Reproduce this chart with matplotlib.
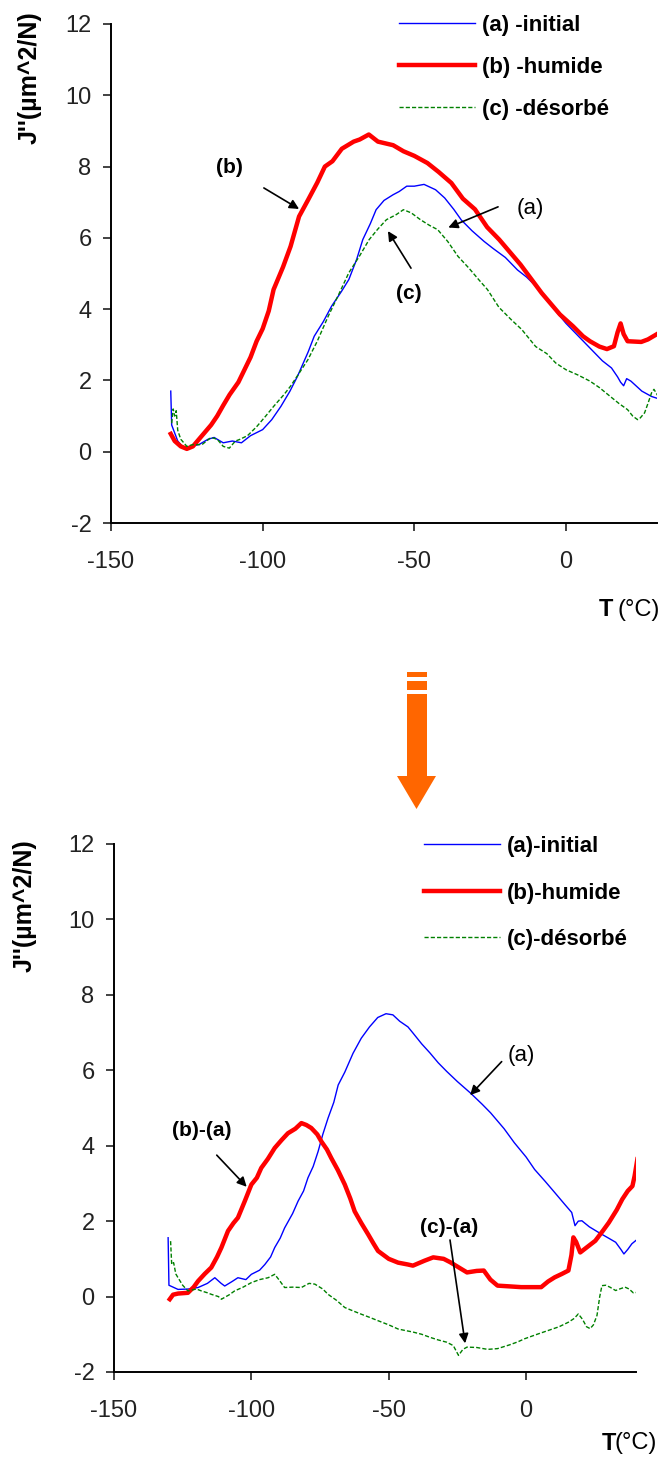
import matplotlib
matplotlib.use("Agg")
import matplotlib.pyplot as plt
from matplotlib.patches import Rectangle, Polygon

plt.rcParams['font.family'] = ['Liberation Sans', 'DejaVu Sans']
plt.rcParams['axes.unicode_minus'] = False

# ---- top panel data: J'' vs T ----
t_a = [-130.3, -130, -128, -126, -124, -121, -118, -116, -113, -110, -107, -104, -100, -97, -94, -91,
       -88.5, -85, -83, -80, -77.3, -74, -71.6, -69, -67, -64.5, -62.6, -60, -57, -55, -52.5, -50,
       -46.8, -43, -40, -37, -34.5, -31, -27, -24, -20, -16, -13, -10, -6.3, -3.4, 0, 4, 8, 12, 15,
       17, 18, 19, 20, 21.4, 25, 28.2, 30]
j_a = [1.7, 0.75, 0.3, 0.1, 0.15, 0.2, 0.35, 0.4, 0.25, 0.3, 0.25, 0.45, 0.62, 0.9, 1.27, 1.7,
       2.12, 2.8, 3.24, 3.65, 4.08, 4.5, 4.83, 5.4, 5.95, 6.4, 6.79, 7.05, 7.21, 7.3, 7.45, 7.45,
       7.5, 7.35, 7.12, 6.8, 6.5, 6.2, 5.9, 5.7, 5.45, 5.1, 4.9, 4.65, 4.3, 3.95, 3.6, 3.25, 2.9, 2.55, 2.35,
       2.1, 1.95, 1.85, 2.05, 1.98, 1.7, 1.55, 1.5]

t_b = [-130.3, -129, -127, -125, -123, -121, -119, -117, -115, -113, -110.9, -108, -106, -104, -102, -100,
       -98, -96.4, -93.3, -90.8, -88, -85, -82, -79.5, -77, -73.9, -70, -68, -65, -62, -60, -57, -53.6,
       -50, -45.7, -42, -37.8, -34, -30, -26, -22, -18, -15, -11.5, -8, -5, -2, 2.3, 5.6, 7.9, 11, 13.5,
       15.8, 17, 18, 19, 20.3, 24.8, 27, 30]
j_b = [0.5, 0.3, 0.15, 0.08, 0.15, 0.35, 0.55, 0.75, 1.0, 1.3, 1.6, 1.95, 2.3, 2.65, 3.1, 3.45,
       3.95, 4.55, 5.18, 5.76, 6.6, 7.07, 7.55, 8.0, 8.15, 8.5, 8.7, 8.76, 8.9, 8.7, 8.66, 8.6, 8.43,
       8.3, 8.1, 7.85, 7.54, 7.1, 6.8, 6.3, 5.95, 5.55, 5.25, 4.85, 4.45, 4.15, 3.85, 3.52, 3.24, 3.1, 2.95, 2.88,
       2.96, 3.35, 3.6, 3.3, 3.1, 3.08, 3.15, 3.3]

t_c = [-130, -129.5, -129, -128.5, -128, -127, -125, -123, -120, -117, -115, -113, -111, -109, -107.7,
       -105, -102, -99, -96.4, -93, -90.8, -88, -85.1, -82, -78.4, -75, -71.6, -68, -64.9, -62, -59.2,
       -56, -53.6, -51, -48, -45, -42.3, -39, -35.6, -32, -28.8, -25.9, -22.1, -18, -14.6, -10, -6.3,
       -3.4, 0, 4, 7.9, 11, 14.6, 17.5, 20.3, 22, 23.6, 24.5, 25.9, 27, 28.2, 29, 30.4]
j_c = [0.8, 1.2, 1.0, 1.15, 0.6, 0.35, 0.15, 0.2, 0.2, 0.4, 0.35, 0.15, 0.1, 0.3, 0.34,
       0.45, 0.7, 1.0, 1.27, 1.6, 1.84, 2.2, 2.58, 3.1, 3.8, 4.4, 5.02, 5.5, 5.95, 6.25, 6.51,
       6.65, 6.79, 6.7, 6.51, 6.35, 6.23, 5.9, 5.48, 5.15, 4.83, 4.55, 4.05, 3.7, 3.43, 2.95, 2.75,
       2.49, 2.3, 2.15, 1.98, 1.8, 1.55, 1.35, 1.18, 1.0, 0.9, 0.95, 1.09, 1.35, 1.65, 1.75, 1.55]

# ---- bottom panel data: (a), (b)-(a), (c)-(a) ----
t2_a = [-130.3, -130, -128.5, -126.7, -123, -119.4, -116, -113.3, -111, -109.7, -107, -104.9, -102,
        -100, -97, -95.1, -93, -91.5, -89.5, -87.9, -85, -83, -81, -79.4, -77.5, -75.7, -74, -72.1,
        -70, -68.4, -66, -63, -60, -57, -54, -51, -48.5, -46, -43, -41.2, -38, -35, -32, -28.9, -25,
        -20.3, -16, -12.9, -8, -4.3, 0, 3.1, 7, 10.4, 14, 16.6, 17.8, 19, 20.3, 23, 26.4, 30, 32.6,
        34.5, 35.6, 37, 38.5, 40.5]
j2_a = [1.56, 0.3, 0.25, 0.19, 0.2, 0.24, 0.35, 0.5, 0.35, 0.28, 0.4, 0.5, 0.45,
        0.59, 0.7, 0.85, 1.05, 1.3, 1.55, 1.82, 2.2, 2.53, 2.8, 3.15, 3.45, 3.85, 4.3, 4.73,
        5.15, 5.61, 5.95, 6.45, 6.85, 7.15, 7.4, 7.5, 7.47, 7.3, 7.15, 6.99, 6.7, 6.46, 6.2, 5.97, 5.7,
        5.4, 5.1, 4.87, 4.45, 4.08, 3.7, 3.37, 3.05, 2.76, 2.45, 2.23, 1.88, 2.0, 2.01, 1.85, 1.7, 1.55, 1.44,
        1.25, 1.13, 1.25, 1.4, 1.52]

t2_b = [-129.7, -128.5, -126.7, -123.1, -121, -119.4, -117, -114.6, -112.5, -110.9, -108.5, -106.5,
        -104.9, -102.4, -100, -98, -96.4, -94, -91.5, -89, -86.7, -84, -81.8, -80, -78.2, -76, -74.5,
        -72.5, -70.9, -68.5, -66, -64, -62.4, -60, -57.5, -55.5, -53.9, -50, -46.6, -43, -41.2, -37,
        -33.8, -30, -27.6, -24, -21.5, -18, -15.4, -13, -10.4, -6, -1.8, 2, 5.5, 8, 10.4, 13, 15.4,
        16.5, 17.2, 18.2, 19.7, 22, 25.2, 28, 30.1, 33, 35, 37, 38.7, 39.5, 40.5]
j2_b = [-0.07, 0.05, 0.08, 0.1, 0.25, 0.41, 0.6, 0.77, 1.05, 1.3, 1.74, 1.95,
        2.09, 2.53, 2.97, 3.15, 3.41, 3.65, 3.94, 4.15, 4.33, 4.45, 4.6, 4.55, 4.47, 4.3, 4.11,
        3.9, 3.67, 3.35, 2.97, 2.6, 2.26, 1.95, 1.65, 1.4, 1.21, 1.0, 0.9, 0.85, 0.82, 0.95,
        1.04, 1.0, 0.91, 0.75, 0.64, 0.68, 0.69, 0.45, 0.29, 0.27, 0.25, 0.25, 0.25, 0.4, 0.51, 0.6, 0.69,
        1.1, 1.57, 1.45, 1.17, 1.3, 1.48, 1.75, 1.96, 2.3, 2.58, 2.8, 2.93, 3.2, 3.64]

t2_c = [-129.4, -129, -128.3, -127.5, -126.7, -125, -123.1, -120, -118.2, -116, -114.6, -112, -110.9,
        -108, -106.1, -103, -100, -97, -93.9, -91.5, -90, -87.9, -85, -81.8, -79, -76.9, -74, -72.1,
        -69, -66, -63, -59.9, -57, -53.9, -50, -46.6, -44, -41.2, -38, -35, -32, -28.9, -26.5, -24.6,
        -23, -21.5, -18, -14, -10.4, -6, -3, -0.6, 4, 8, 12, 15.4, 17.5, 19, 20.5, 22, 23.3, 24.5,
        25.8, 26.8, 27.6, 29, 30.5, 32.6, 34, 36, 37.5, 39, 40.5]
j2_c = [1.47, 0.85, 0.9, 0.6, 0.5, 0.3, 0.15, 0.2, 0.15, 0.1, 0.06, 0.0, -0.07,
        0.05, 0.15, 0.25, 0.37, 0.45, 0.5, 0.59, 0.45, 0.24, 0.25, 0.24, 0.35, 0.33, 0.2, 0.06,
        -0.1, -0.29, -0.38, -0.47, -0.55, -0.64, -0.75, -0.86, -0.9, -0.94, -1.0, -1.08, -1.15, -1.21, -1.3, -1.56,
        -1.4, -1.34, -1.35, -1.4, -1.38, -1.28, -1.2, -1.12, -1.0, -0.9, -0.8, -0.68, -0.58, -0.46, -0.6, -0.8, -0.85, -0.75,
        -0.5, 0.0, 0.29, 0.3, 0.25, 0.16, 0.2, 0.25, 0.2, 0.1, 0.11]

yticks = [-2, 0, 2, 4, 6, 8, 10, 12]
xticks = [-150, -100, -50, 0]
labels_top = ["(a) -initial", "(b) -humide", "(c) -désorbé"]
labels_bot = ["(a)-initial", "(b)-humide", "(c)-désorbé"]

W, H = 662, 1461
fig = plt.figure(figsize=(W / 100, H / 100), dpi=100)


def px(x, y):
    # pixel position (from top-left) -> figure fraction
    return x / W, 1 - y / H


def style_axes(ax, xmax):
    ax.set_xlim(-150, xmax)
    ax.set_ylim(-2, 12)
    ax.set_xticks(xticks)
    ax.set_yticks(yticks)
    for s in ['top', 'right']:
        ax.spines[s].set_visible(False)
    for s in ['left', 'bottom']:
        ax.spines[s].set_linewidth(1.4)
    ax.tick_params(direction='out', length=6, width=1.2, labelsize=17, colors='#222222')
    ax.tick_params(axis='x', pad=14)
    ax.tick_params(axis='y', pad=8)


def draw_series(ax, xa, ya, xb, yb, xc, yc, labels, anchor, spacing):
    la, = ax.plot(xa, ya, color='#0000ff', lw=1.0)
    lb, = ax.plot(xb, yb, color='#ff0000', lw=3.2)
    lc, = ax.plot(xc, yc, color='#008000', lw=1.0, ls=(0, (3, 1.5)))
    ax.legend([la, lb, lc], labels, loc='upper left', bbox_to_anchor=anchor,
              bbox_transform=fig.transFigure, frameon=False, borderpad=0, borderaxespad=0,
              handlelength=3.4, handletextpad=0.35, labelspacing=spacing,
              prop={'weight': 'bold', 'size': 16})


arrow_kw = dict(arrowstyle='-|>', color='black', lw=1.2, mutation_scale=14, shrinkA=0, shrinkB=0)

# ---- top panel ----
ax1 = fig.add_axes([111 / W, 1 - 523 / H, 546 / W, 499 / H])
style_axes(ax1, 30)
draw_series(ax1, t_a, j_a, t_b, j_b, t_c, j_c, labels_top, px(399, 15), 0.95)
ax1.annotate('', xy=(-88.0, 6.81), xytext=(-99.6, 7.4), arrowprops=arrow_kw)
ax1.text(-110.8, 7.96, '(b)', fontsize=15, weight='bold', ha='center', va='center')
ax1.annotate('', xy=(-38.8, 6.29), xytext=(-22.4, 6.87), arrowprops=arrow_kw)
ax1.text(-11.9, 6.81, '(a)', fontsize=16, ha='center', va='center')
ax1.annotate('', xy=(-58.7, 6.19), xytext=(-51.1, 5.15), arrowprops=arrow_kw)
ax1.text(-51.8, 4.45, '(c)', fontsize=15, weight='bold', ha='center', va='center')

fig.text(*px(30, 78), "J''(µm^2/N)", rotation=90, fontsize=18, weight='bold', ha='center', va='center')
fig.text(*px(613, 610), 'T', fontsize=17, weight='bold', ha='right', va='center')
fig.text(*px(660, 610), '(°C)', fontsize=17, ha='right', va='center')

# ---- bottom panel ----
ax2 = fig.add_axes([114 / W, 1 - 1372 / H, 522 / W, 528 / H])
style_axes(ax2, 40)
draw_series(ax2, t2_a, j2_a, t2_b, j2_b, t2_c, j2_c, labels_bot, px(424, 836), 1.15)
ax2.annotate('', xy=(-101.7, 2.91), xytext=(-112.6, 3.75), arrowprops=arrow_kw)
ax2.text(-118.1, 4.41, '(b)-(a)', fontsize=15, weight='bold', ha='center', va='center')
ax2.annotate('', xy=(-20.4, 5.34), xytext=(-8.9, 6.23), arrowprops=arrow_kw)
ax2.text(-1.6, 6.39, '(a)', fontsize=16, ha='center', va='center')
ax2.annotate('', xy=(-22.2, -1.24), xytext=(-27.7, 1.5), arrowprops=arrow_kw)
ax2.text(-28.1, 1.84, '(c)-(a)', fontsize=15, weight='bold', ha='center', va='center')

fig.text(*px(25, 906), "J''(µm^2/N)", rotation=90, fontsize=18, weight='bold', ha='center', va='center')
fig.text(*px(616, 1443), 'T', fontsize=17, weight='bold', ha='right', va='center')
fig.text(*px(657, 1443), '(°C)', fontsize=17, ha='right', va='center')

# ---- orange arrow between the panels ----
orange = '#ff6600'
for top, bot in [(672, 677), (681, 690), (694, 777)]:
    xa, ya = px(407, bot)
    fig.add_artist(Rectangle((xa, ya), 20 / W, (bot - top) / H, transform=fig.transFigure,
                             facecolor=orange, edgecolor='none'))
fig.add_artist(Polygon([px(397, 776), px(436, 776), px(416.5, 809)], closed=True,
                       transform=fig.transFigure, facecolor=orange, edgecolor='none'))

fig.savefig('out.png', dpi=100)
